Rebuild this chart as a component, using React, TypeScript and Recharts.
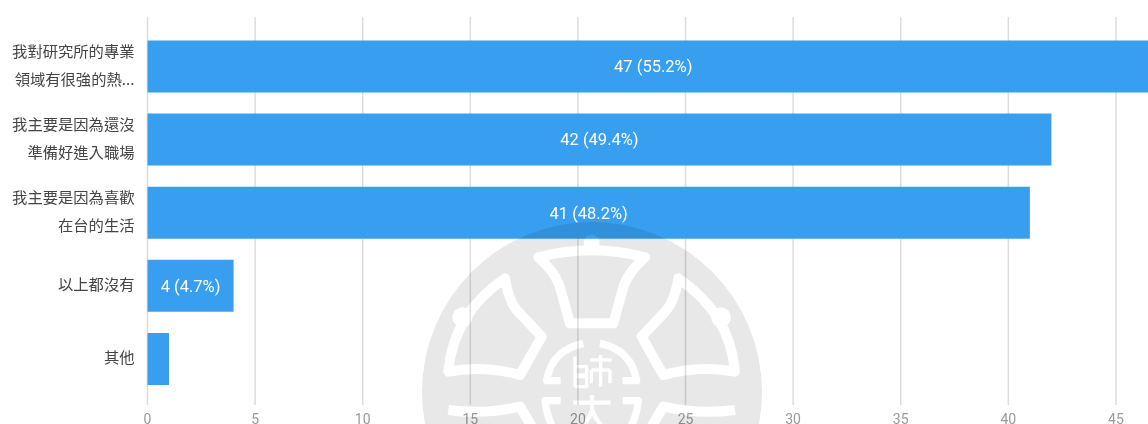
import React from 'react';
import { BarChart, Bar, XAxis, YAxis, CartesianGrid, LabelList } from 'recharts';

const categories = [
  '我對研究所的專業\n領域有很強的熱...',
  '我主要是因為還沒\n準備好進入職場',
  '我主要是因為喜歡\n在台的生活',
  '以上都沒有',
  '其他',
];
const counts = [47, 42, 41, 4, 1];
const barLabels = ['47 (55.2%)', '42 (49.4%)', '41 (48.2%)', '4 (4.7%)', ''];
const xTicks = [0, 5, 10, 15, 20, 25, 30, 35, 40, 45];

const data = categories.map((name, i) => ({ name, count: counts[i], label: barLabels[i] }));

const CJK = '"Noto Sans CJK TC", sans-serif';

const CategoryTick = ({ x, y, payload }: any) => {
  const lines = String(payload.value).split('\n');
  return (
    <text x={x} y={y} textAnchor="end" fontFamily={CJK} fontSize={15.3} fill="#444">
      {lines.map((line, i) => (
        <tspan key={i} x={x - 7} y={y + (i - (lines.length - 1) / 2) * 28 + 5}>
          {line}
        </tspan>
      ))}
    </text>
  );
};

// 師大 logo watermark, drawn over the chart like in the screenshot
const Watermark = () => (
  <svg width={1148} height={424} style={{ position: 'absolute', left: 0, top: 0, pointerEvents: 'none' }}>
    <defs>
      <mask id="logo">
        <circle cx={592} cy={392} r={170} fill="#fff" />
        <g transform="translate(400 210) scale(0.3333)" fill="none" stroke="#000" strokeWidth={30} strokeLinejoin="round">
          <path d="M415 142 Q575 100 735 142 Q690 180 672 225 L640 340 L510 340 L478 225 Q460 180 415 142 Z" />
          <circle cx={575} cy={98} r={24} fill="#000" stroke="none" />
          <path d="M315 205 Q325 270 350 300 L425 380 L360 495 Q250 465 145 485 Q160 310 315 205 Z" />
          <path d="M835 205 Q825 270 800 300 L725 380 L790 495 Q900 465 1005 485 Q990 310 835 205 Z" />
          <circle cx={187} cy={322} r={30} fill="#000" stroke="none" />
          <circle cx={963} cy={322} r={30} fill="#000" stroke="none" />
          <path d="M145 600 Q250 615 360 590 L425 700 L350 790" />
          <path d="M1005 600 Q900 615 790 590 L725 700 L800 790" />
          <path d="M482 512 L440 512 Q455 420 550 400" strokeWidth={22} />
          <path d="M668 512 L710 512 Q695 420 600 400" strokeWidth={22} />
          <path d="M482 572 L435 572 Q445 660 500 700" strokeWidth={22} />
          <path d="M668 572 L715 572 Q705 660 650 700" strokeWidth={22} />
          <path d="M525 440 V530 M525 470 H560 V495 H525 M525 500 H560 V530 H525 M570 450 H635 M602 435 V530 M574 480 V520 M630 480 V520 M574 480 H630" strokeWidth={10} />
          <path d="M520 578 H632 M576 555 V600 Q560 650 520 665 M576 600 Q595 650 635 665" strokeWidth={13} />
        </g>
      </mask>
    </defs>
    <rect x={0} y={0} width={1148} height={424} fill="#000" fillOpacity={0.09} mask="url(#logo)" />
  </svg>
);

export default function App() {
  return (
    <div style={{ position: 'absolute', left: 0, top: 0, width: 1148, height: 424, overflow: 'hidden', background: '#fff', filter: 'blur(0.4px)' }}>
      <BarChart
        width={1159}
        height={424}
        data={data}
        layout="vertical"
        margin={{ top: 17, right: 0, bottom: 0, left: 0 }}
      >
        <CartesianGrid horizontal={false} stroke="#dcdcdc" strokeWidth={1.5} />
        <XAxis
          type="number"
          domain={[0, 47]}
          ticks={xTicks}
          axisLine={false}
          tickLine={false}
          height={19}
          interval={0}
          tick={{ fill: '#999', fontSize: 14, fontFamily: 'Roboto, sans-serif', dy: 1 }}
        />
        <YAxis
          type="category"
          dataKey="name"
          width={147.5}
          axisLine={false}
          tickLine={false}
          interval={0}
          padding={{ top: 12.5, bottom: 10 }}
          tick={<CategoryTick />}
          tickMargin={0}
        />
        <Bar dataKey="count" fill="#389ff0" barSize={52} isAnimationActive={false}>
          <LabelList
            dataKey="label"
            position="center"
            fill="#fff"
            fontSize={16.5}
            fontFamily="Roboto, sans-serif"
          />
        </Bar>
      </BarChart>
      <Watermark />
    </div>
  );
}
